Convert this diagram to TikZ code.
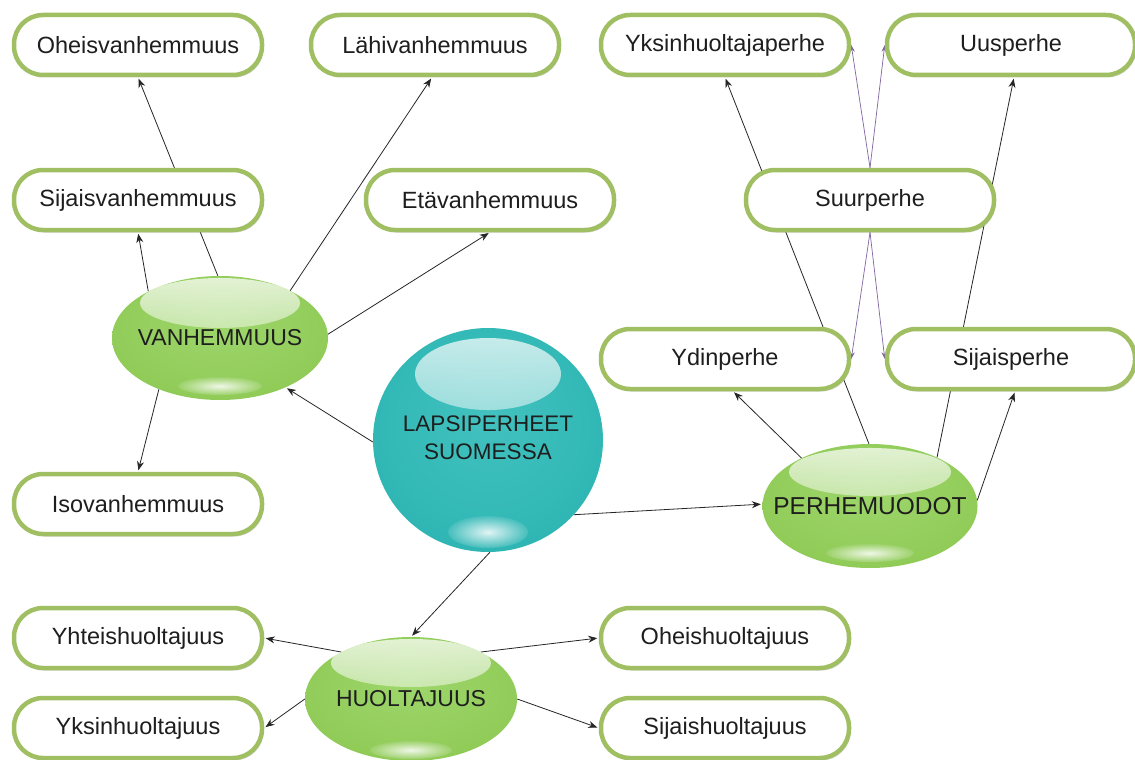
\documentclass[tikz,border=0pt]{standalone}
\usepackage{fontspec}
\setmainfont{Liberation Sans}
\usetikzlibrary{shapes.geometric,shadows,fadings,arrows.meta,backgrounds}
\definecolor{boxgreen}{HTML}{9FBF62}
\definecolor{purp}{HTML}{8064A2}
\definecolor{txt}{HTML}{1E1E1E}
\pgfdeclareradialshading{greenball}{\pgfpoint{0bp}{6bp}}{rgb(0bp)=(0.62,0.84,0.42); rgb(25bp)=(0.57,0.80,0.35); rgb(42bp)=(0.53,0.77,0.30); rgb(50bp)=(0.47,0.72,0.26)}
\pgfdeclareradialshading{tealball}{\pgfpoint{0bp}{6bp}}{rgb(0bp)=(0.26,0.76,0.75); rgb(25bp)=(0.19,0.72,0.71); rgb(42bp)=(0.15,0.67,0.67); rgb(50bp)=(0.12,0.61,0.61)}
\tikzfading[name=hltop, top color=transparent!25, bottom color=transparent!95]
\tikzfading[name=hlbot, inner color=transparent!15, outer color=transparent!90]
\begin{document}
\begin{tikzpicture}[x=1pt,y=-1pt,
  box/.style={draw=boxgreen, line width=4.5pt, fill=white, rounded corners=29pt,
    minimum width=248pt, minimum height=60pt, inner sep=0pt, text=txt,
    font=\fontsize{23.5}{28}\selectfont,
    drop shadow={shadow xshift=1.5pt, shadow yshift=-2.5pt, opacity=0.3}},
  hl/.style n args={6}{path picture={
    \fill[white, path fading=hltop] ([yshift=#1]path picture bounding box.center) ellipse [x radius=#2, y radius=#3];
    \fill[white, path fading=hlbot] ([yshift=#4]path picture bounding box.center) ellipse [x radius=#5, y radius=#6];}},
  gball/.style={ellipse, shading=greenball, minimum width=216pt, minimum height=124pt,
    inner sep=0pt, text=txt, font=\fontsize{23}{28}\selectfont},
  tball/.style={ellipse, shading=tealball, minimum width=230pt, minimum height=224pt,
    inner sep=0pt, text=txt, font=\fontsize{22.5}{28}\selectfont},
  conn/.style={draw=black!85, line width=0.8pt, -{Stealth[length=9pt,width=7pt]}, shorten >=1.5pt},
  pconn/.style={draw=purp, line width=0.7pt, -{Stealth[length=7pt,width=5pt]}}
]
\useasboundingbox (0,0) rectangle (1135,760);

\node[box] (O1) at (138,45) {Oheisvanhemmuus};
\node[box] (L) at (435,45) {Lähivanhemmuus};
\node[box] (YP) at (725,45) {Yksinhuoltajaperhe};
\node[box] (U) at (1011,45) {Uusperhe};
\node[box] (S) at (138,200) {Sijaisvanhemmuus};
\node[box] (E) at (490,200) {Etävanhemmuus};
\node[box] (Su) at (870,200) {Suurperhe};
\node[box] (Yd) at (725,359) {Ydinperhe};
\node[box] (SP) at (1011,359) {Sijaisperhe};
\node[box] (I) at (138,504) {Isovanhemmuus};
\node[box] (Yh) at (138,638) {Yhteishuoltajuus};
\node[box] (Oh) at (725,638) {Oheishuoltajuus};
\node[box] (Yk) at (138,728) {Yksinhuoltajuus};
\node[box] (Sh) at (725,728) {Sijaishuoltajuus};

\node[gball, hl={35pt}{80pt}{25pt}{-48pt}{42pt}{9pt}] (V) at (220,338) {\makebox[0pt]{VANHEMMUUS}};
\node[gball, minimum width=215pt, font=\fontsize{24.5}{28}\selectfont, hl={34pt}{81pt}{24pt}{-47pt}{44pt}{9pt}] (P) at (870,506) {\makebox[0pt]{PERHEMUODOT}};
\node[gball, minimum width=212pt, hl={36pt}{80pt}{24pt}{-51pt}{41pt}{9pt}] (H) at (411,699) {\makebox[0pt]{HUOLTAJUUS}};
\node[tball, hl={66pt}{73pt}{36pt}{-92pt}{40pt}{16pt}] (C) at (488,440) {\makebox[0pt]{\begin{tabular}{@{}c@{}}LAPSIPERHEET\\SUOMESSA\end{tabular}}};

\begin{pgfonlayer}{background}
\fill[white] (0,0) rectangle (1135,760);
\draw[conn] (V.147) -- (S.south);
\draw[conn] (V.92) -- (O1.south);
\draw[conn] (V.34) -- ([xshift=-3pt]L.south);
\draw[conn] (V.2) -- (E.south);
\draw[conn] (V.220) -- (I.north);
\draw[conn] (C.181) -- (V.323);
\draw[conn] (C.319) -- (P.179);
\draw[conn] (C.271) -- (H.90);
\draw[conn] (P.145) -- ([xshift=8pt]Yd.south);
\draw[conn] (P.91) -- (YP.south);
\draw[conn] (P.36) -- ([xshift=3pt]U.south);
\draw[conn] (P.3) -- ([xshift=4pt]SP.south);
\draw[pconn] (Su.north) -- (YP.east);
\draw[pconn] (Su.north) -- (U.west);
\draw[pconn] (Su.south) -- (Yd.east);
\draw[pconn] (Su.south) -- (SP.west);
\draw[conn] (H.146) -- (Yh.east);
\draw[conn] (H.180) -- (Yk.east);
\draw[conn] (H.34) -- (Oh.west);
\draw[conn] (H.0) -- (Sh.west);
\end{pgfonlayer}
\end{tikzpicture}
\end{document}
